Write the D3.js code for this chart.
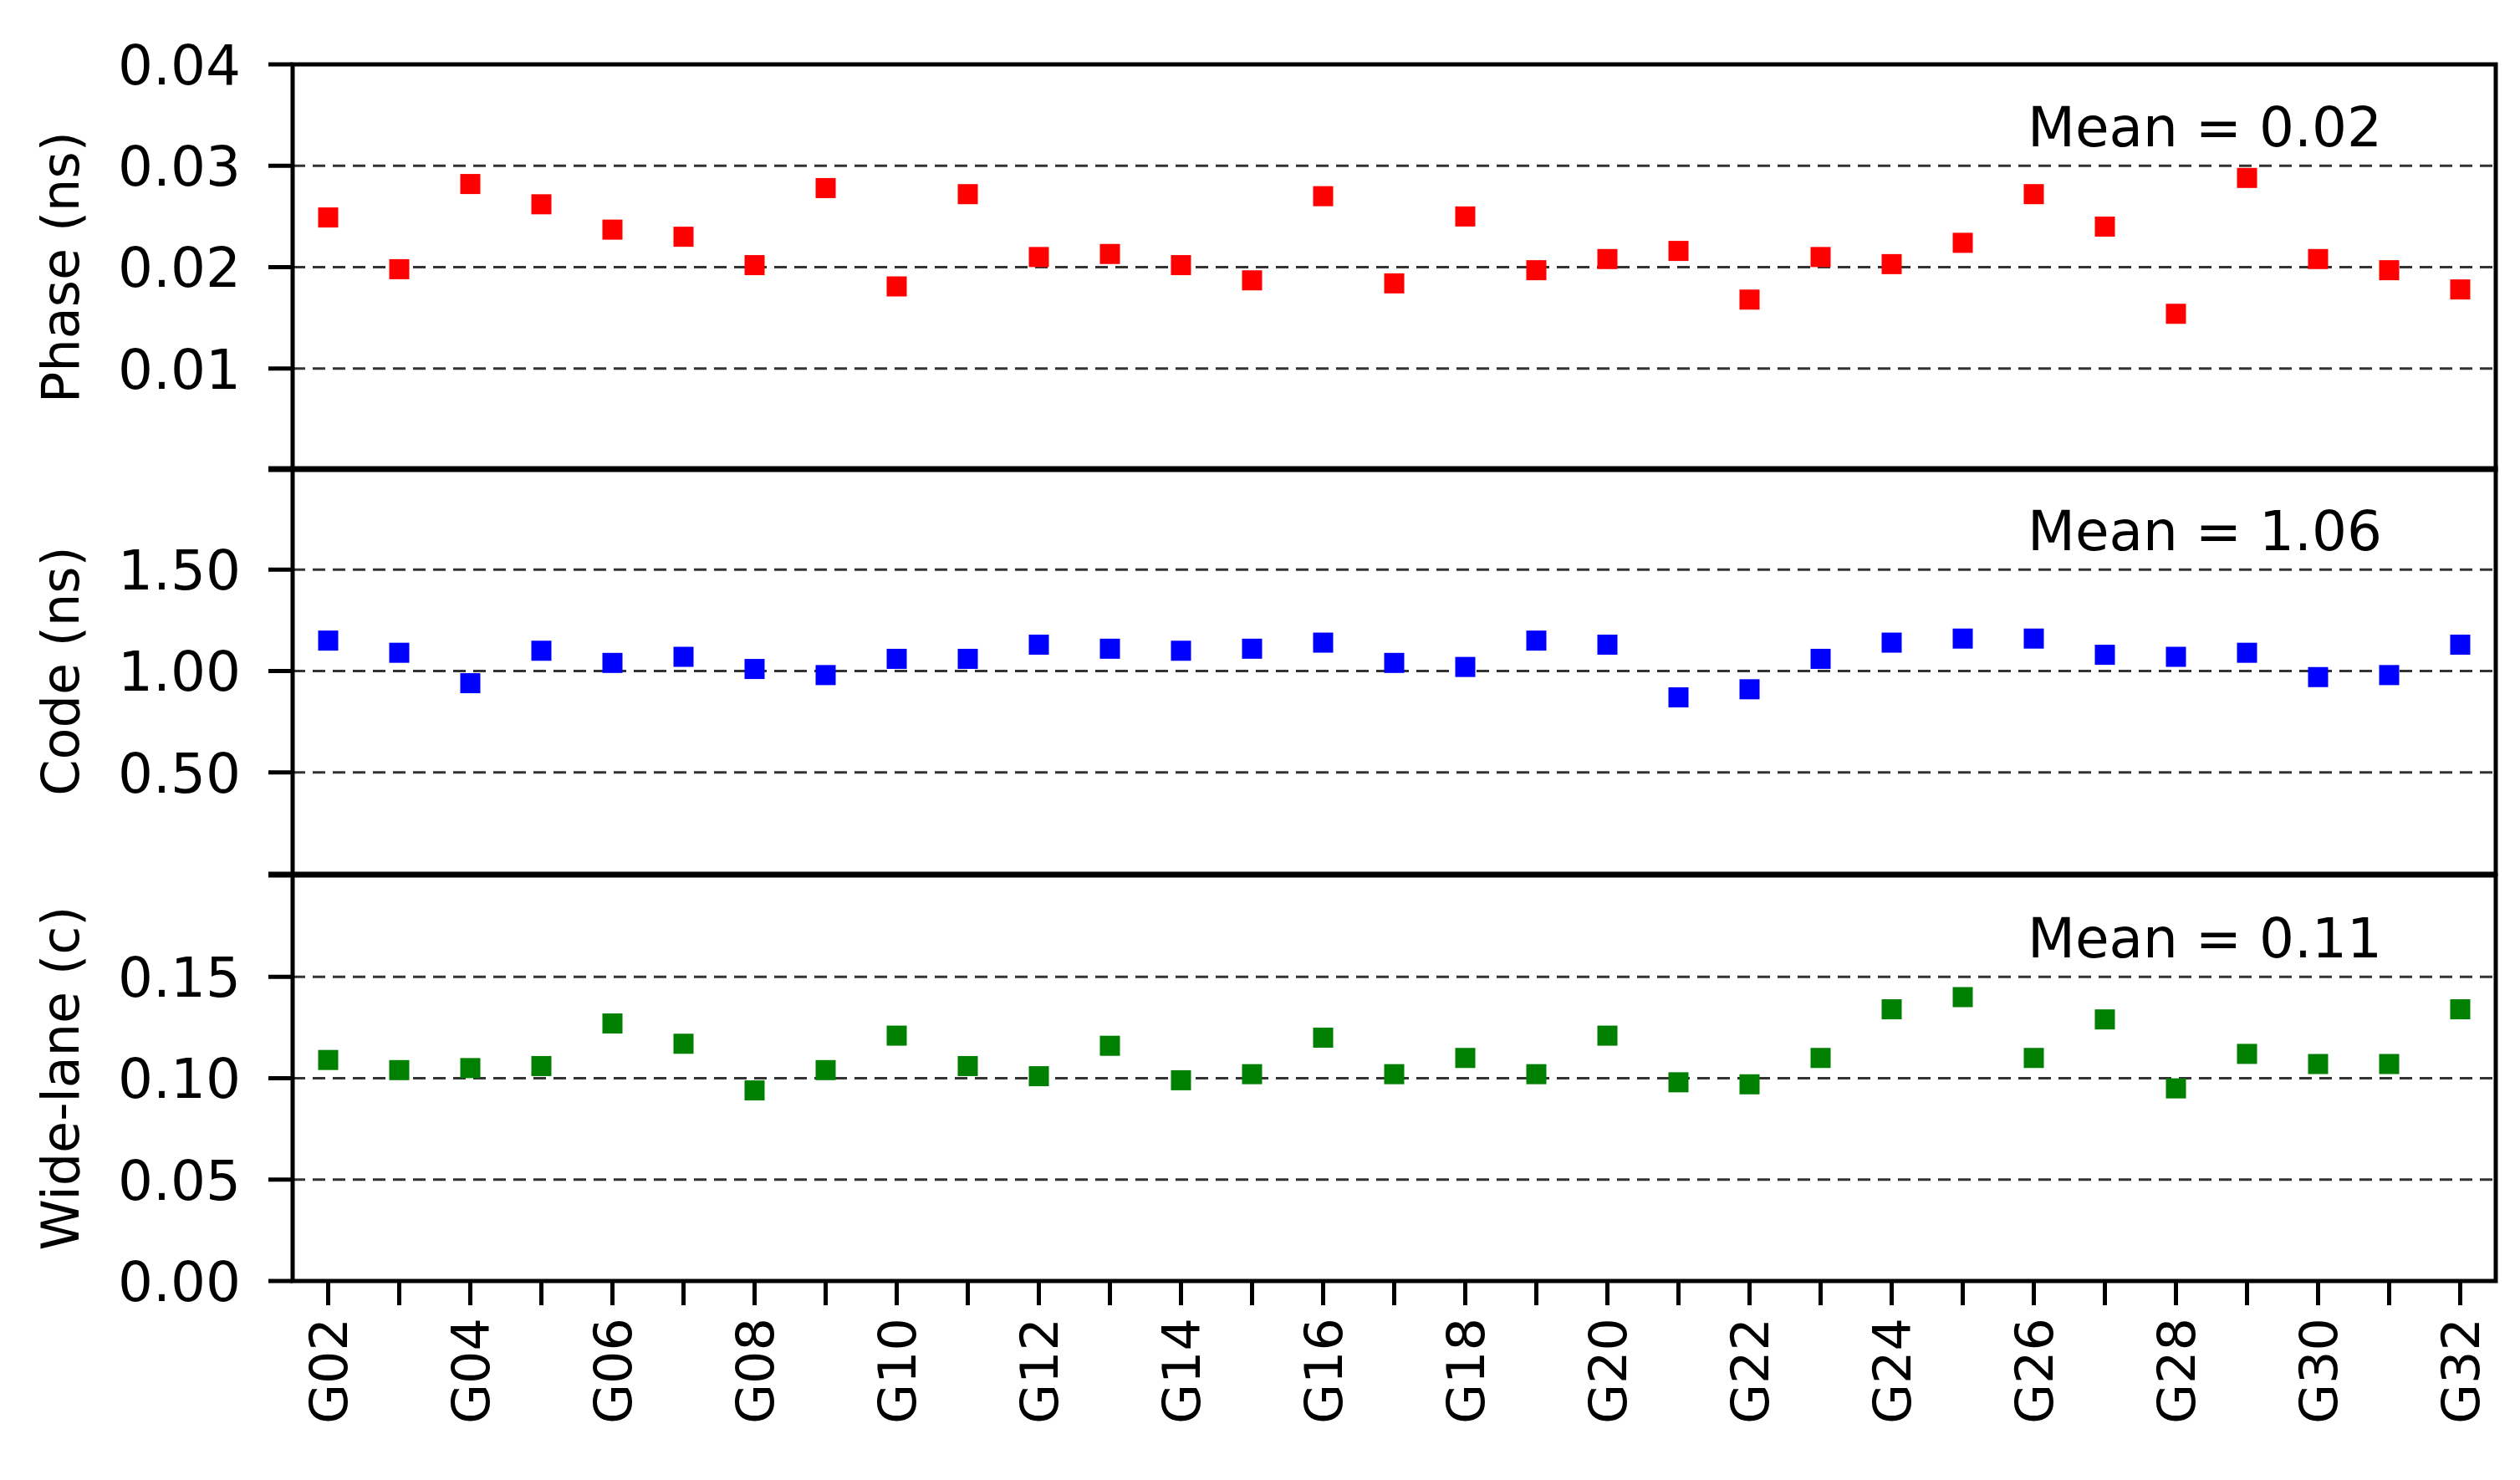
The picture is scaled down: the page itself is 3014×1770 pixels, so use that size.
<!DOCTYPE html>
<html><head><meta charset="utf-8">
<script src="https://cdn.jsdelivr.net/npm/d3@7"></script>
<style>body{margin:0;background:#fff}text{font-family:"DejaVu Sans",sans-serif}</style>
</head><body>
<svg id="c" width="3014" height="1770"></svg>
<script>
const categories = d3.range(2,33).map(i=>"G"+String(i).padStart(2,"0"));
const phase = [0.0249,0.0198,0.0282,0.0262,0.0237,0.0230,0.0202,0.0278,0.0181,0.0272,0.0210,0.0213,0.0202,0.0187,0.0270,0.0184,0.0250,0.0197,0.0208,0.0216,0.0168,0.0210,0.0203,0.0224,0.0272,0.0240,0.0154,0.0288,0.0208,0.0197,0.0178];
const code = [1.15,1.09,0.94,1.10,1.04,1.07,1.01,0.98,1.06,1.06,1.13,1.11,1.10,1.11,1.14,1.04,1.02,1.15,1.13,0.87,0.91,1.06,1.14,1.16,1.16,1.08,1.07,1.09,0.97,0.98,1.13];
const wide = [0.109,0.104,0.105,0.106,0.127,0.117,0.094,0.104,0.121,0.106,0.101,0.116,0.099,0.102,0.120,0.102,0.110,0.102,0.121,0.098,0.097,0.110,0.134,0.140,0.110,0.129,0.095,0.112,0.107,0.107,0.134];
const panels = [
 {label:"Phase (ns)", values:phase, color:"#ff0000", domain:[0,0.04], ticks:[0.01,0.02,0.03,0.04], grid:[0.01,0.02,0.03], fmt:d3.format(".2f"), mean:"Mean = 0.02", tickAll:[0,0.01,0.02,0.03,0.04]},
 {label:"Code (ns)", values:code, color:"#0000ff", domain:[0,2], ticks:[0.5,1.0,1.5], grid:[0.5,1.0,1.5], fmt:d3.format(".2f"), mean:"Mean = 1.06", tickAll:[0,0.5,1,1.5,2]},
 {label:"Wide-lane (c)", values:wide, color:"#008000", domain:[0,0.2], ticks:[0,0.05,0.10,0.15], grid:[0.05,0.10,0.15], fmt:d3.format(".2f"), mean:"Mean = 0.11", tickAll:[0,0.05,0.1,0.15,0.2]}
];
const svg = d3.select("#c");
const L=350, R=2985, tops=[77,560,1047], H=485;
const x = d3.scalePoint().domain(categories).range([L,R]).padding(0.5);
panels.forEach((p,i)=>{
  const t=tops[i], b=t+H;
  const y=d3.scaleLinear().domain(p.domain).range([b,t]);
  const g=svg.append("g");
  g.selectAll("line.grid").data(p.grid).enter().append("line")
    .attr("x1",L).attr("x2",R).attr("y1",d=>y(d)).attr("y2",d=>y(d))
    .attr("stroke","#333").attr("stroke-width",3).attr("stroke-dasharray","15,9");
  g.selectAll("line.tk").data(p.tickAll).enter().append("line")
    .attr("x1",L-29).attr("x2",L).attr("y1",d=>y(d)).attr("y2",d=>y(d))
    .attr("stroke","#000").attr("stroke-width",5);
  g.selectAll("text.tl").data(p.ticks).enter().append("text")
    .attr("x",L-62).attr("y",d=>y(d)).attr("dy","0.36em").attr("text-anchor","end")
    .attr("font-size",66).text(p.fmt);
  g.selectAll("rect.pt").data(p.values).enter().append("rect")
    .attr("x",(d,j)=>x(categories[j])-12).attr("y",d=>y(d)-12)
    .attr("width",24).attr("height",24).attr("fill",p.color);
  g.append("rect").attr("x",L).attr("y",t).attr("width",R-L).attr("height",H)
    .attr("fill","none").attr("stroke","#000").attr("stroke-width",5);
  g.append("text").attr("x",2425).attr("y",t+98).attr("font-size",66).text(p.mean);
  g.append("text").attr("transform",`translate(94,${t+H/2}) rotate(-90)`)
    .attr("text-anchor","middle").attr("font-size",62).text(p.label);
});
const bot=tops[2]+H;
svg.selectAll("line.xt").data(categories).enter().append("line")
  .attr("x1",d=>x(d)).attr("x2",d=>x(d)).attr("y1",bot).attr("y2",bot+29)
  .attr("stroke","#000").attr("stroke-width",5);
svg.selectAll("text.xl").data(categories.filter((d,i)=>i%2===0)).enter().append("text")
  .attr("transform",d=>`translate(${x(d)},${bot+44}) rotate(-90)`)
  .attr("text-anchor","end").attr("dy","0.36em").attr("font-size",62).text(d=>d);
</script>
</body></html>
